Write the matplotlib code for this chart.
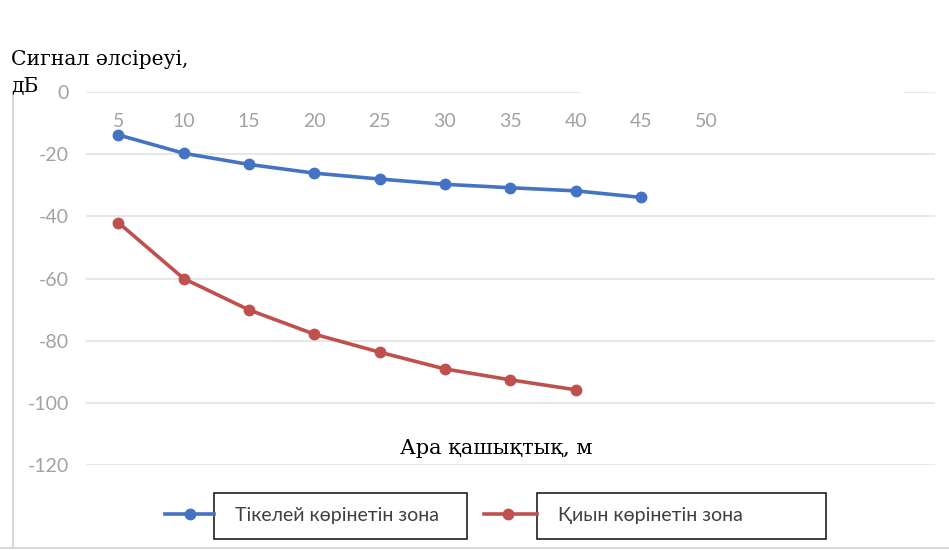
import matplotlib
matplotlib.use("Agg")
import matplotlib.pyplot as plt
from matplotlib.lines import Line2D
from matplotlib.patches import Rectangle
from matplotlib import transforms

# Distance categories (m)
distances = ["5", "10", "15", "20", "25", "30", "35", "40", "45", "50"]
# Signal attenuation, dB
direct_zone = [-13.8, -19.7, -23.3, -26.1, -28.0, -29.7, -30.8, -31.8, -33.9]
obstructed_zone = [-42.0, -60.0, -70.1, -77.9, -83.7, -89.1, -92.6, -95.8]
y_ticks = [0, -20, -40, -60, -80, -100, -120]

series_names = ["Тікелей көрінетін зона", "Қиын көрінетін зона"]
y_title = ["Сигнал әлсіреуі,", "дБ"]
x_title = "Ара қашықтық, м"

BLUE = "#4472c4"
RED = "#c0504d"
GRID = "#e3e3e3"
TICK = "#a2a2a2"
SERIF = "DejaVu Serif"
SANS = "Lato"

W, H = 949, 550
fig = plt.figure(figsize=(W / 100, H / 100), dpi=100)

def fx(px):
    return px / W

def fy(py):
    return 1 - py / H

left, right, top, bottom = 85.6, 935, 92, 465
ax = fig.add_axes([fx(left), fy(bottom), fx(right - left), fy(top) - fy(bottom)])
ax.set_xlim(-0.5, 12.5)
ax.set_ylim(-120, 0)
for s in ax.spines.values():
    s.set_visible(False)

# horizontal gridlines
for v in y_ticks:
    if v == 0:
        ax.axhline(v, xmin=0, xmax=(580 - left) / (right - left), color=GRID, lw=1.2, zorder=0)
        ax.axhline(v, xmin=(905 - left) / (right - left), xmax=1, color=GRID, lw=1.2, zorder=0)
    else:
        ax.axhline(v, color=GRID, lw=1.2, zorder=0)

ax.set_yticks(y_ticks)
ax.set_yticklabels([str(v) for v in y_ticks], fontfamily=SANS, fontsize=14, color=TICK)
ax.tick_params(axis="y", length=0, pad=12)
ax.set_xticks([])

# category labels sit just under the zero line
off = transforms.offset_copy(ax.transData, fig=fig, x=0, y=-21, units="dots")
for i, lab in enumerate(distances):
    ax.text(i, 0, lab, transform=off, ha="center", va="top",
            fontfamily=SANS, fontsize=14, color=TICK)

xs_blue = list(range(len(direct_zone)))
xs_red = list(range(len(obstructed_zone)))
ax.plot(xs_blue, direct_zone, color=BLUE, lw=2.6, marker="o", ms=7.5, zorder=3)
ax.plot(xs_red, obstructed_zone, color=RED, lw=2.6, marker="o", ms=7.5, zorder=3)

# axis titles
fig.text(fx(11), fy(65), y_title[0], fontfamily=SERIF, fontsize=14.6,
         color="black", va="baseline", ha="left")
fig.text(fx(11), fy(92), y_title[1], fontfamily=SERIF, fontsize=14.6,
         color="black", va="baseline", ha="left")
fig.text(fx(400), fy(454), x_title, fontfamily=SERIF, fontsize=15,
         color="black", va="baseline", ha="left")

# legend: line samples with boxed labels
def legend_entry(x0, x1, mx, box_l, box_r, color, label):
    fig.add_artist(Line2D([fx(x0), fx(x1)], [fy(514), fy(514)], color=color, lw=2.6,
                          transform=fig.transFigure))
    fig.add_artist(Line2D([fx(mx)], [fy(514)], color=color, marker="o", ms=7.5,
                          transform=fig.transFigure))
    fig.add_artist(Rectangle((fx(box_l), fy(539)), fx(box_r - box_l), fy(493) - fy(539),
                             transform=fig.transFigure, facecolor="white",
                             edgecolor="#202020", lw=1.2))
    fig.text(fx(box_l + 21), fy(516), label, fontfamily=SANS, fontsize=14,
             color="#404040", va="center", ha="left")

legend_entry(165, 214, 190, 214, 467, BLUE, series_names[0])
legend_entry(484, 537, 508, 537, 826, RED, series_names[1])

# chart frame edges
fig.add_artist(Line2D([fx(12.5), fx(12.5)], [fy(96), fy(548)], color="#d9d9d9", lw=1.5,
                      transform=fig.transFigure))
fig.add_artist(Line2D([0, 1], [fy(548), fy(548)], color="#d9d9d9", lw=1.5,
                      transform=fig.transFigure))

fig.savefig("out.png", dpi=100)
